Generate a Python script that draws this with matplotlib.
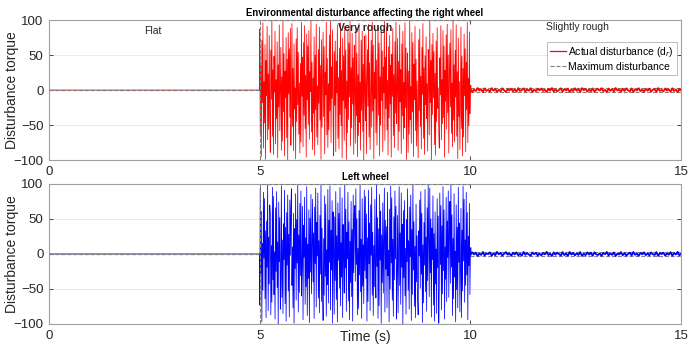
import matplotlib
matplotlib.use("Agg")
import matplotlib.pyplot as plt
import numpy as np

plt.rcParams["font.family"] = ["Liberation Sans", "DejaVu Sans"]

# Very rough road (5-10 s), right wheel disturbance
right_rough = [
    87, -62, 34, -95, 71, -18, 96, -83, 12, -47, 65, -99, 42, -8, 91, -71, 23, -56, 78, -34,
    -89, 57, -13, 99, -66, 29, -92, 48, -3, 84, -77, 15, -41, 69, -97, 36, -24, 93, -58, 7,
    61, -86, 19, -73, 98, -31, 52, -94, 27, -11, 75, -68, 44, -100, 82, -5, 59, -39, 88, -79,
    -16, 95, -52, 31, -87, 66, -27, 3, -98, 73, -45, 89, -21, 54, -63, 10, -90, 38, -74, 97,
    -9, 47, -81, 68, -36, 92, -55, 21, -96, 80, -14, 63, -49, 85, -70, 26, -2, 99, -60, 40,
    -85, 17, -33, 76, -93, 50, -28, 94, -67, 6, -78, 58, -19, 90, -43, 35, -99, 72, -53, 14,
    83, -38, 62, -91, 25, -7, 97, -64, 45, -82, 9, -57, 79, -30, 100, -75, 33, -12, 86, -48,
    -94, 55, -22, 70, -88, 41, -4, 93, -69, 18, -84, 60, -35, 96, -51, 28, -97, 74, -15, 49,
    -72, 91, -26, 57, -99, 13, -61, 87, -42, 67, -10, 98, -80, 32, -54, 81, -20, 46, -92, 64,
    4, -76, 89, -37, 53, -95, 22, -65, 95, -46, 11, -86, 71, -29, 84, -59, 37, -100, 77, -1,
    -44, 79, -91, 16, 58, -23, 94, -67, 39, -85, 2, 71, -53, 97, -30, 64, -98, 25, -12, 86,
    -61, 43, -79, 8, 92, -36, 67, -94, 19, -50, 83, -15, 56, -88, 33, -4, 99, -72, 47, -27,
    90, -57, 14, -93, 62, -40, 78, -20, 35, -96, 51, -9, 88, -65, 22, -82, 69, -33, 97, -48,
    -1, 74, -86, 41, -59, 93, -17, 29, -91, 66, -37, 84, -70, 11, -54, 96, -25, 60, -99, 18,
    53, -89, 27, -63, 100, -42, 5, -76, 82, -31, 68, -95, 37, -14, 91, -58, 44, -80, 13, -46,
    -97, 72, -29, 87, -52, 20, -84, 61, -6, 95, -69, 32, -92, 49, -21, 76, -41, 9, -87, 58,
    30, -64, 98, -18, 42, -100, 65, -35, 81, -11, 55, -78, 24, -93, 70, -45, 89, -26, 3, -60,
    -83, 46, -7, 92, -71, 15, -48, 85, -39, 63, -96, 28, -16, 79, -56, 94, -32, 50, -90, 21,
    67, -24, 86, -62, 10, -81, 99, -43, 36, -74, 57, -10, 93, -66, 26, -98, 74, -38, 12, -85,
    -19, 90, -55, 48, -94, 31, -67, 80, -8, 59, -88, 40, -28, 97, -75, 17, -51, 83, -34, 6,
]

# Very rough road (5-10 s), left wheel disturbance
left_rough = [
    -73, 94, -28, 61, -97, 15, -52, 88, -6, 79, -64, 33, -91, 47, -19, 99, -81, 24, -43, 70,
    56, -87, 12, -69, 95, -37, 82, -58, 3, -93, 66, -25, 89, -48, 17, -100, 74, -11, 52, -79,
    -34, 97, -62, 20, -85, 43, -8, 91, -71, 38, -96, 59, -16, 84, -53, 28, -90, 77, -2, 65,
    93, -45, 10, -77, 58, -99, 36, -21, 86, -66, 49, -13, 98, -83, 27, -55, 72, -31, 90, -60,
    -18, 68, -94, 41, -5, 81, -72, 23, -47, 96, -88, 14, -35, 63, -98, 51, -26, 85, -57, 9,
    78, -40, 30, -92, 67, -14, 94, -76, 45, -3, 87, -63, 19, -84, 55, -29, 100, -68, 37, -50,
    -95, 22, -59, 83, -32, 71, -89, 6, -44, 92, -70, 48, -12, 97, -80, 34, -23, 76, -99, 60,
    11, -86, 53, -38, 89, -65, 26, -97, 73, -9, 58, -49, 95, -74, 16, -33, 80, -91, 42, -1,
    -56, 99, -20, 64, -82, 31, -7, 88, -67, 46, -94, 18, -41, 75, -61, 35, -96, 84, -27, 57,
    69, -39, 93, -15, 50, -87, 8, -78, 62, -30, 98, -54, 21, -92, 79, -46, 13, -71, 91, -24,
    82, -35, 57, -96, 23, -68, 91, -14, 44, -81, 70, -2, 95, -59, 31, -88, 12, -47, 78, -26,
    -63, 99, -18, 52, -92, 36, -74, 85, -9, 61, -99, 27, -41, 73, -56, 16, 94, -83, 48, -22,
    39, -77, 88, -31, 5, -97, 64, -50, 97, -13, 80, -66, 21, -89, 53, -37, 90, -7, 68, -93,
    -28, 55, -84, 15, 96, -45, 30, -72, 87, -19, 42, -100, 62, -34, 76, -60, 8, -86, 49, -11,
    93, -52, 19, -79, 67, -4, 84, -95, 35, -58, 100, -23, 46, -75, 11, -91, 71, -40, 26, -65,
    -87, 33, -3, 77, -49, 89, -29, 58, -98, 13, -70, 45, -16, 92, -54, 24, -82, 66, -38, 98,
    17, -61, 94, -27, 50, -90, 37, -8, 83, -73, 29, -96, 60, -43, 7, -85, 79, -20, 54, -99,
    -46, 87, -15, 69, -80, 40, -57, 96, -24, 63, -93, 10, -36, 81, -68, 47, -5, 90, -62, 32,
    75, -42, 99, -19, 56, -88, 22, -64, 86, -33, 4, -97, 70, -51, 38, -77, 95, -12, 44, -83,
    -26, 65, -91, 34, -53, 97, -10, 78, -69, 20, -45, 88, -30, 59, -94, 25, -17, 72, -58, 8,
]

# Slightly rough road (10-15 s)
right_slight = [
    1.8, -2.6, 0.9, -1.5, 2.9, -0.4, 1.2, -2.9, 2.3, -1.1, 0.3, -2.2, 2.7, -0.8, 1.6, -2.4, 0.5, -1.9, 2.5, -0.2,
    -2.8, 1.4, -0.6, 2.1, -1.7, 0.8, -2.5, 2.8, -1.3, 0.1, 2.4, -2.0, 1.1, -0.9, 2.6, -2.7, 0.6, -1.6, 1.9, -0.3,
    2.2, -1.2, 0.4, -2.8, 1.7, -0.7, 2.9, -2.1, 1.0, -1.8, 0.2, 2.5, -2.3, 1.5, -0.5, 2.0, -2.9, 0.7, -1.4, 2.6,
    -1.0, 1.3, -2.6, 2.8, -0.1, 1.8, -2.2, 0.9, -1.7, 2.3, -2.4, 0.5, 1.6, -0.8, 2.7, -1.5, 0.3, -2.7, 2.1, -1.1,
    1.4, -2.0, 2.9, -0.6, 0.8, -2.5, 1.9, -1.3, 2.4, -0.2, -1.9, 2.2, -2.8, 1.2, -0.4, 2.6, -1.6, 0.6, -2.3, 1.7,
    -0.9, 2.0, -2.1, 0.4, 1.5, -2.6, 2.8, -1.2, 0.1, -1.8, 2.3, -0.7, 1.1, -2.4, 2.5, -1.4, 0.7, -2.9, 1.9, -0.3,
]
left_slight = [
    -1.6, 2.4, -0.7, 1.9, -2.8, 0.5, -1.3, 2.7, -2.1, 0.9, -0.2, 2.2, -2.6, 1.1, -1.8, 2.9, -0.4, 1.5, -2.3, 0.3,
    2.6, -1.0, 0.8, -2.7, 1.7, -0.6, 2.3, -1.9, 0.2, -2.4, 2.8, -1.2, 1.3, -0.9, -2.5, 2.0, -0.3, 1.6, -2.2, 0.7,
    -2.0, 1.2, -0.5, 2.9, -1.5, 0.4, -2.9, 2.1, -1.1, 1.8, -0.1, -2.3, 2.5, -1.7, 0.6, -2.6, 2.7, -0.8, 1.4, -2.0,
    0.9, -1.4, 2.6, -2.8, 0.2, -1.7, 2.2, -0.9, 1.8, -2.5, 2.4, -0.5, -1.6, 0.8, -2.7, 1.5, -0.3, 2.8, -2.1, 1.0,
    -1.3, 2.0, -2.9, 0.6, -0.7, 2.5, -1.9, 1.3, -2.4, 0.1, 1.9, -2.2, 2.7, -1.2, 0.4, -2.6, 1.6, -0.6, 2.3, -1.8,
    0.9, -2.0, 2.1, -0.4, -1.5, 2.6, -2.8, 1.2, -0.1, 1.7, -2.3, 0.7, -1.1, 2.4, -2.5, 1.4, -0.7, 2.9, -1.9, 0.3,
]

# bound of the disturbance for each road section
bound_t = [0, 5, 5, 10, 10, 15]
bound_max = [0, 0, 100, 100, 3, 3]

segments = ["Flat", "Very rough", "Slightly rough"]
xticks = [0, 5, 10, 15]
yticks = [-100, -50, 0, 50, 100]


def build_signal(rough, slight):
    t = np.concatenate([[0, 5], np.linspace(5, 10, len(rough)), np.linspace(10, 15, len(slight))])
    d = np.concatenate([[0, 0], rough, slight])
    return t, d


def style_axes(ax):
    ax.set_xlim(0, 15)
    ax.set_ylim(-100, 100)
    ax.set_xticks(xticks)
    ax.set_yticks(yticks)
    ax.grid(axis="y", color="#e6e6e6", lw=0.6)
    ax.set_axisbelow(True)
    ax.tick_params(direction="in", top=True, right=True, labelsize=9.5,
                   colors="#262626", length=3, width=0.6, pad=4)
    for s in ax.spines.values():
        s.set_color("#a0a0a0")
        s.set_linewidth(0.8)
    ax.set_ylabel("Disturbance torque", fontsize=10, color="#262626")
    ax.yaxis.set_label_coords(-0.047, 0.5)


fig = plt.figure(figsize=(6.97, 3.45), dpi=100)
ax1 = fig.add_axes([0.0703, 0.536, 0.907, 0.406])
ax2 = fig.add_axes([0.0703, 0.061, 0.907, 0.406])

for ax, rough, slight, color, lbl in [
    (ax1, right_rough, right_slight, "#ff0000", "Actual disturbance (d$_r$)"),
    (ax2, left_rough, left_slight, "#0000ff", "Actual disturbance (d$_l$)"),
]:
    t, d = build_signal(rough, slight)
    n = 2 + len(rough)
    ax.plot(t[:n], d[:n], color=color, lw=0.55, label=lbl, zorder=2)
    # the slightly rough part shows as a thick band
    ax.plot(t[n - 1:], d[n - 1:], color=color, lw=1.3, zorder=2)
    lower = [-b for b in bound_max]
    # dashed bound: on top for flat / very rough, hidden under the thin band
    ax.plot(bound_t[:4], bound_max[:4], color="#808080", ls="--", lw=0.8,
            label="Maximum disturbance", zorder=3)
    ax.plot(bound_t[:4], lower[:4], color="#808080", ls="--", lw=0.8, zorder=3)
    ax.plot(bound_t[4:], bound_max[4:], color="#808080", ls="--", lw=0.8, zorder=1.5)
    ax.plot(bound_t[4:], lower[4:], color="#808080", ls="--", lw=0.8, zorder=1.5)
    style_axes(ax)

ax1.set_title("Environmental disturbance affecting the right wheel",
              fontsize=6.9, fontweight="bold", pad=3)
ax2.set_title("Left wheel", fontsize=6.9, fontweight="bold", pad=3)

ax1.text(2.47, 84, segments[0], fontsize=7.5, ha="center", va="center", color="#262626")
ax1.text(7.5, 88, segments[1], fontsize=7.5, ha="center", va="center",
         fontweight="bold", color="#262626")
ax1.text(12.55, 90, segments[2], fontsize=7.5, ha="center", va="center", color="#262626")

leg = ax1.legend(loc="upper right", bbox_to_anchor=(0.997, 0.86), fontsize=7.5,
                 frameon=True, fancybox=False, borderpad=0.3, handlelength=1.6,
                 handletextpad=0.2, labelspacing=0.3, borderaxespad=0.2)
leg.get_frame().set_edgecolor("#a0a0a0")
leg.get_frame().set_linewidth(0.6)
leg.legend_handles[0].set_linewidth(0.9)
leg.legend_handles[0].set_color("#ff0000")

ax2.set_xlabel("Time (s)", fontsize=10, color="#262626")
ax2.xaxis.set_label_coords(0.5, -0.04)

fig.savefig("out.png", dpi=100)
